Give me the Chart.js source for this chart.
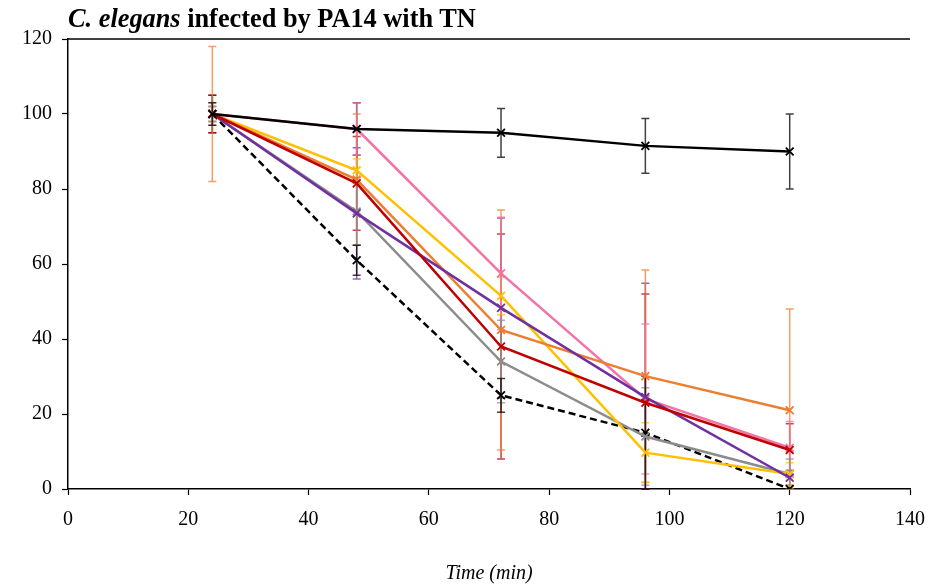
<!DOCTYPE html>
<html>
<head>
<meta charset="utf-8">
<script src="https://cdn.jsdelivr.net/npm/chart.js@4.4.0/dist/chart.umd.min.js"></script>
<style>
  html, body { margin: 0; padding: 0; background: #fff; }
  #wrap { position: relative; width: 950px; height: 586px; }
  #title {
    position: absolute; left: 68px; top: 2px;
    font-family: "Liberation Serif", serif; font-weight: bold; font-size: 28px;
    color: #000; white-space: nowrap; line-height: 32px;
    transform: scaleX(0.94); transform-origin: left top;
  }
</style>
</head>
<body>
<div id="wrap">
  <canvas id="survivalChart" width="950" height="586"></canvas>
  <div id="title"><i>C. elegans</i> infected by PA14 with TN</div>
</div>
<script>
const times = [24, 48, 72, 96, 120];
const xTicks = [0, 20, 40, 60, 80, 100, 120, 140];
const yTicks = [0, 20, 40, 60, 80, 100, 120];

const control = [100, 96, 95, 91.5, 90];
const controlErr = [5, 7, 6.5, 7.3, 10];
const dashed = [100, 61, 25, 15, 0];
const dashedErr = [3, 4, 4.5, 15, 0];
const pink = [100, 96, 57.5, 24, 11];
const pinkErr = [3, 7, 15, 20, 7];
const yellow = [100, 85, 51.5, 9.7, 4];
const yellowErr = [2, 3, 5, 8, 3];
const orange = [100, 82.5, 42.4, 30.1, 21];
const orangeErr = [18, 17.5, 32, 28.3, 27];
const red = [100, 81.5, 38, 23, 10.4];
const redErr = [5, 12.5, 30, 29, 7];
const purple = [100, 73.5, 48.3, 24.5, 3];
const purpleErr = [2, 17.5, 24, 30.4, 2];
const gray = [100, 74, 34, 14, 4];
const grayErr = [2, 9, 11, 13, 4];

function pts(vals) {
    return vals.map((v, i) => ({ x: times[i], y: v }));
}

function series(label, vals, err, color, dash) {
    return {
        label: label,
        data: pts(vals),
        errors: err,
        borderColor: color,
        backgroundColor: color,
        borderWidth: 2.5,
        borderDash: dash || [],
        pointStyle: 'crossRot',
        pointRadius: 5.5,
        pointBorderWidth: 1.8,
        pointBorderColor: color,
        tension: 0,
        fill: false
    };
}

const errorBars = {
    id: 'errorBars',
    beforeDatasetsDraw(chart) {
        const { ctx, scales: { x, y } } = chart;
        ctx.save();
        chart.data.datasets.forEach((ds) => {
            ctx.strokeStyle = ds.borderColor;
            ctx.globalAlpha = 0.75;
            ctx.lineWidth = 1.5;
            ds.data.forEach((p, i) => {
                const e = ds.errors[i];
                if (!e) return;
                const px = x.getPixelForValue(p.x);
                const top = y.getPixelForValue(p.y + e);
                const bot = y.getPixelForValue(Math.max(0, p.y - e));
                ctx.beginPath();
                ctx.moveTo(px, top); ctx.lineTo(px, bot);
                ctx.moveTo(px - 4, top); ctx.lineTo(px + 4, top);
                ctx.moveTo(px - 4, bot); ctx.lineTo(px + 4, bot);
                ctx.stroke();
            });
        });
        ctx.restore();
    }
};

const frame = {
    id: 'frame',
    afterDraw(chart) {
        const { ctx, chartArea: a } = chart;
        ctx.save();
        ctx.strokeStyle = '#000';
        ctx.lineWidth = 1.5;
        ctx.beginPath();
        ctx.moveTo(a.left, a.top); ctx.lineTo(a.right, a.top);
        ctx.stroke();
        ctx.restore();
    }
};

new Chart(document.getElementById('survivalChart'), {
    type: 'line',
    data: {
        datasets: [
            series('Control', control, controlErr, '#000000'),
            series('Red', red, redErr, '#C00000'),
            series('Purple', purple, purpleErr, '#7030A0'),
            series('Orange', orange, orangeErr, '#ED7D31'),
            series('Yellow', yellow, yellowErr, '#FFC000'),
            series('Pink', pink, pinkErr, '#F472A6'),
            series('Gray', gray, grayErr, '#8C8C8C'),
            series('Dashed', dashed, dashedErr, '#000000', [7, 4])
        ]
    },
    options: {
        responsive: false,
        animation: false,
        layout: { padding: { top: 39, right: 40, left: 0, bottom: 0 } },
        plugins: {
            legend: { display: false },
            tooltip: { enabled: false }
        },
        scales: {
            x: {
                type: 'linear',
                min: 0,
                max: 140,
                afterBuildTicks: (s) => { s.ticks = xTicks.map(v => ({ value: v })); },
                afterFit: (s) => { s.height = 97; },
                grid: { drawOnChartArea: false, tickLength: 6, color: '#000', tickWidth: 1.2 },
                border: { color: '#000', width: 1.5 },
                ticks: { color: '#000', padding: 13, font: { family: 'Liberation Serif', size: 20 } },
                title: {
                    display: true,
                    text: 'Time (min)',
                    color: '#000',
                    padding: { top: 0, bottom: 0 },
                    font: { family: 'Liberation Serif', size: 20, style: 'italic' }
                }
            },
            y: {
                min: 0,
                max: 120,
                afterBuildTicks: (s) => { s.ticks = yTicks.map(v => ({ value: v })); },
                afterFit: (s) => { s.width = 68; },
                grid: { drawOnChartArea: false, tickLength: 6, color: '#000', tickWidth: 1.2 },
                border: { color: '#000', width: 1.5 },
                ticks: { color: '#000', padding: 10, font: { family: 'Liberation Serif', size: 20 } }
            }
        }
    },
    plugins: [errorBars, frame]
});
</script>
</body>
</html>
